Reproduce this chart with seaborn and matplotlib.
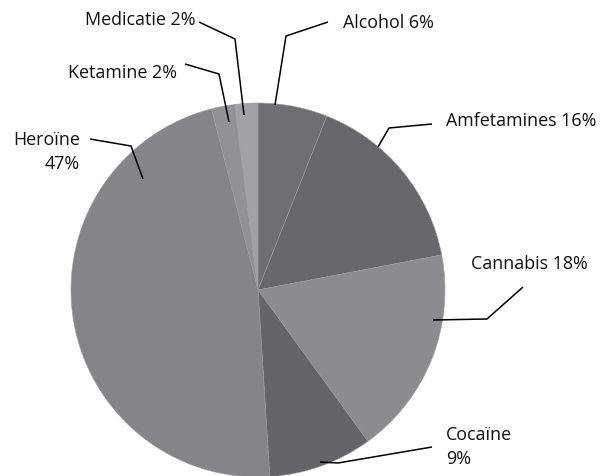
import matplotlib
matplotlib.use("Agg")
import matplotlib.pyplot as plt
import seaborn as sns

sns.set_theme(style="white")
plt.rcParams["font.family"] = ["Open Sans", "DejaVu Sans"]

# Drug categories and their shares (%), clockwise from 12 o'clock
categories = ["Alcohol", "Amfetamines", "Cannabis", "Cocaïne", "Heroïne", "Ketamine", "Medicatie"]
shares = [6, 16, 18, 9, 47, 2, 2]
labels = ["Alcohol 6%", "Amfetamines 16%", "Cannabis 18%", "Cocaïne\n9%",
          "Heroïne\n47%", "Ketamine 2%", "Medicatie 2%"]
colors = ["#6f6f72", "#68686b", "#8c8c8f", "#656568", "#858588", "#929295", "#a2a2a5"]

W, H = 614, 477
cx, cy, R = 258, 291, 187

fig = plt.figure(figsize=(W / 100, H / 100), dpi=100)
ax = fig.add_axes([0, 0, 1, 1])

ax.pie(shares, colors=colors, startangle=90, counterclock=False, radius=1.0,
       center=(0, 0), frame=True,
       wedgeprops=dict(edgecolor="#9a9a9d", linewidth=0.4))
ax.set_xlim(-cx / R, (W - cx) / R)
ax.set_ylim((cy - H) / R, cy / R)
ax.set_aspect("equal")
ax.axis("off")


def px(x, y):
    return ((x - cx) / R, (cy - y) / R)


# Leader lines (pixel-space waypoints) and label anchors
leaders = [
    [(275, 106), (286, 37), (328, 23)],
    [(378, 148), (389, 129), (432, 125)],
    [(433, 321), (487, 320), (523, 288)],
    [(320, 463), (338, 464), (432, 448)],
    [(143, 180), (131, 147), (90, 140)],
    [(229, 123), (219, 75), (185, 65)],
    [(244, 116), (235, 40), (199, 23)],
]
anchors = [
    (343, 23, "left", "center"),
    (446, 121, "left", "center"),
    (471, 264, "left", "center"),
    (446, 447, "left", "center"),
    (80, 152, "right", "center"),
    (177, 73, "right", "center"),
    (195, 20, "right", "center"),
]

for pts, (tx, ty, ha, va), lab in zip(leaders, anchors, labels):
    xs, ys = zip(*[px(x, y) for x, y in pts])
    ax.plot(xs, ys, color="black", lw=1.1, solid_capstyle="butt")
    ax.text(*px(tx, ty), lab, ha=ha, va=va, fontsize=12.9, color="#111111",
            linespacing=1.45, multialignment=ha)

fig.savefig("out.png", dpi=100, facecolor="white")
